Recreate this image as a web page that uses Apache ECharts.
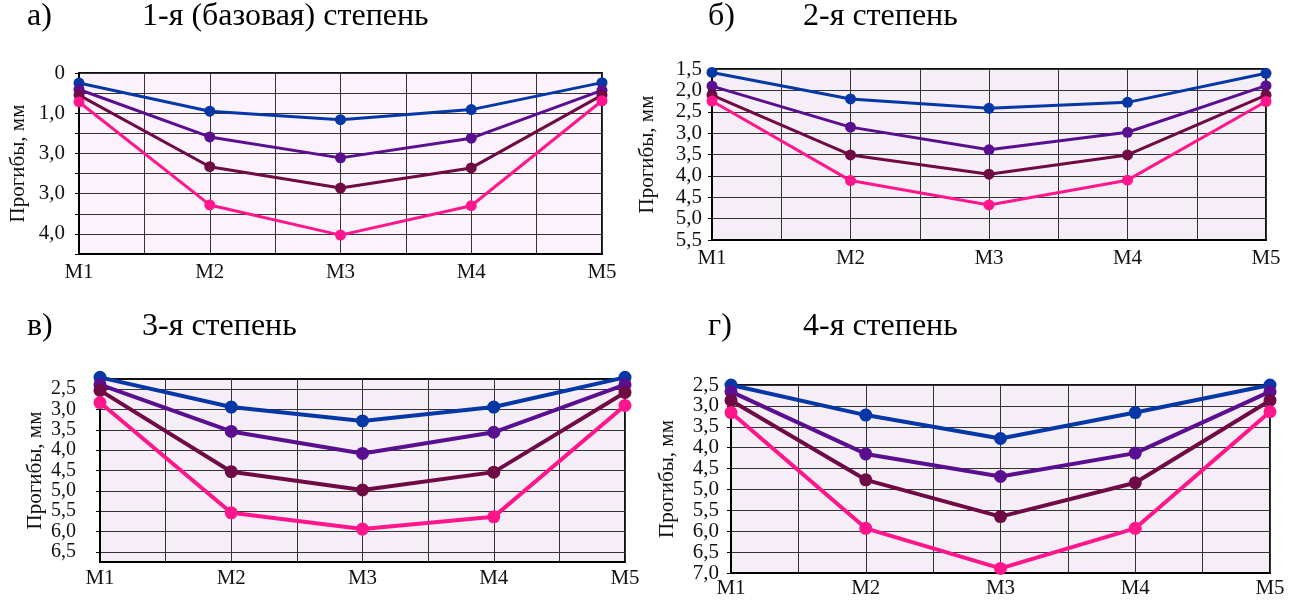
<!DOCTYPE html>
<html>
<head>
<meta charset="utf-8">
<script src="https://cdn.jsdelivr.net/npm/echarts@6/dist/echarts.min.js"></script>
<style>
html, body { margin: 0; padding: 0; background: #fff; }
#chart { width: 1292px; height: 600px; }
</style>
</head>
<body>
<div id="chart"></div>
<script>
const categories = ['M1', 'M2', 'M3', 'M4', 'M5'];
const panelLetters = ['а)', 'б)', 'в)', 'г)'];
const panelTitles = ['1-я (базовая) степень', '2-я степень', '3-я степень', '4-я степень'];
const yName = 'Прогибы, мм';

// а) 1-я (базовая) степень
const aBlue = [0.25, 0.95, 1.16, 0.91, 0.24];
const aPurple = [0.41, 1.59, 2.11, 1.62, 0.43];
const aMaroon = [0.55, 2.33, 2.86, 2.36, 0.55];
const aPink = [0.72, 3.28, 4.03, 3.30, 0.69];
const aGridValues = [0, 0.5, 1, 1.5, 2, 2.5, 3, 3.5, 4, 4.5];
const aTickValues = [0, 1, 2, 3, 4];
const aTickLabels = ['0', '1,0', '3,0', '3,0', '4,0'];

// б) 2-я степень
const bBlue = [1.58, 2.20, 2.42, 2.28, 1.60];
const bPurple = [1.90, 2.86, 3.39, 2.98, 1.89];
const bMaroon = [2.11, 3.51, 3.96, 3.51, 2.11];
const bPink = [2.25, 4.11, 4.68, 4.10, 2.26];
const bTickValues = [1.5, 2, 2.5, 3, 3.5, 4, 4.5, 5, 5.5];
const bTickLabels = ['1,5', '2,0', '2,5', '3,0', '3,5', '4,0', '4,5', '5,0', '5,5'];

// в) 3-я степень
const cBlue = [2.21, 2.94, 3.28, 2.94, 2.21];
const cPurple = [2.39, 3.54, 4.08, 3.56, 2.39];
const cMaroon = [2.53, 4.53, 4.98, 4.54, 2.58];
const cPink = [2.83, 5.54, 5.94, 5.64, 2.90];
const cTickValues = [2.5, 3, 3.5, 4, 4.5, 5, 5.5, 6, 6.5];
const cTickLabels = ['2,5', '3,0', '3,5', '4,0', '4,5', '5,0', '5,5', '6,0', '6,5'];

// г) 4-я степень
const dBlue = [2.50, 3.22, 3.78, 3.16, 2.50];
const dPurple = [2.66, 4.15, 4.69, 4.13, 2.66];
const dMaroon = [2.87, 4.77, 5.65, 4.84, 2.87];
const dPink = [3.16, 5.93, 6.89, 5.93, 3.14];
const dTickValues = [2.5, 3, 3.5, 4, 4.5, 5, 5.5, 6, 6.5, 7];
const dTickLabels = ['2,5', '3,0', '3,5', '4,0', '4,5', '5,0', '5,5', '6,0', '6,5', '7,0'];

const xGridValues = [0, 0.5, 1, 1.5, 2, 2.5, 3, 3.5, 4];
const lineColors = ['#0637a6', '#5a0f90', '#6f0a45', '#ff168c'];

const serif = '"Liberation Serif", "DejaVu Serif", serif';

const panels = [
  { series: [aBlue, aPurple, aMaroon, aPink], min: 0, max: 4.5, grid: aGridValues, ticks: aTickValues, labels: aTickLabels,
    box: { left: 79, top: 73, width: 523, height: 181 }, bg: '#fbf2fb', lw: 3, sym: 11, lblMargin: 14, lblSize: 21, xMargin: 8, nameGap: 50,
    title: [27, 1, 142] },
  { series: [bBlue, bPurple, bMaroon, bPink], min: 1.5, max: 5.5, grid: bTickValues, ticks: bTickValues, labels: bTickLabels,
    box: { left: 712, top: 69, width: 554, height: 171 }, bg: '#f6eef6', lw: 3, sym: 11, lblMargin: 10, lblSize: 21, xMargin: 8, nameGap: 54,
    title: [708, 1, 803] },
  { series: [cBlue, cPurple, cMaroon, cPink], min: 2.25, max: 6.75, grid: cTickValues, ticks: cTickValues, labels: cTickLabels,
    box: { left: 100, top: 379, width: 525, height: 183 }, bg: '#f6eef6', lw: 4, sym: 13, lblMargin: 24, lblSize: 20, xMargin: 6, nameGap: 54,
    title: [27, 311, 142] },
  { series: [dBlue, dPurple, dMaroon, dPink], min: 2.5, max: 7, grid: dTickValues, ticks: dTickValues, labels: dTickLabels,
    box: { left: 731, top: 385, width: 539, height: 188 }, bg: '#f6eef6', lw: 4, sym: 13, lblMargin: 12, lblSize: 21, xMargin: 5, nameGap: 53,
    title: [708, 311, 803] }
];

const chart = echarts.init(document.getElementById('chart'));

const titles = [];
const grids = [];
const xAxes = [];
const yAxes = [];
const series = [];

panels.forEach((p, i) => {
  const ts = { fontFamily: serif, fontSize: 32, fontWeight: 'normal', color: '#000' };
  titles.push({ text: panelLetters[i], left: p.title[0], top: p.title[1], padding: 0, textStyle: ts });
  titles.push({ text: panelTitles[i], left: p.title[2], top: p.title[1], padding: 0, textStyle: ts });

  grids.push(Object.assign({
    show: true, backgroundColor: p.bg, borderColor: '#111', borderWidth: 2, containLabel: false
  }, p.box));

  xAxes.push({
    type: 'value', gridIndex: i, min: 0, max: 4,
    axisLine: { show: true, onZero: false, lineStyle: { color: '#000', width: 2 } },
    axisTick: { show: false, customValues: xGridValues },
    axisLabel: {
      customValues: [0, 1, 2, 3, 4], margin: p.xMargin, showMinLabel: true, showMaxLabel: true,
      fontFamily: serif, fontSize: 21, color: '#111',
      formatter: v => categories[Math.round(v)]
    },
    splitLine: { show: true, lineStyle: { color: '#333', width: 1 } }
  });

  yAxes.push({
    type: 'value', gridIndex: i, inverse: true, min: p.min, max: p.max,
    name: yName, nameLocation: 'middle', nameRotate: 90, nameGap: p.nameGap,
    nameTextStyle: { fontFamily: serif, fontSize: 21, color: '#111' },
    axisLine: { show: true, onZero: false, lineStyle: { color: '#000', width: 2 } },
    axisTick: { show: true, length: 4, customValues: p.grid, lineStyle: { color: '#000' } },
    axisLabel: {
      customValues: p.ticks, margin: p.lblMargin,
      fontFamily: serif, fontSize: p.lblSize, color: '#111',
      formatter: v => {
        const k = p.ticks.findIndex(t => Math.abs(t - v) < 1e-6);
        return k >= 0 ? p.labels[k] : '';
      }
    },
    splitLine: { show: true, lineStyle: { color: '#333', width: 1 } }
  });

  p.series.forEach((vals, j) => {
    series.push({
      type: 'line', xAxisIndex: i, yAxisIndex: i, clip: false,
      data: vals.map((v, k) => [k, v]),
      symbol: 'circle', symbolSize: p.sym,
      lineStyle: { color: lineColors[j], width: p.lw },
      itemStyle: { color: lineColors[j] },
      z: 3 + j
    });
  });
});

chart.setOption({
  animation: false,
  backgroundColor: '#fff',
  title: titles,
  grid: grids,
  xAxis: xAxes,
  yAxis: yAxes,
  series: series
});
</script>
</body>
</html>
